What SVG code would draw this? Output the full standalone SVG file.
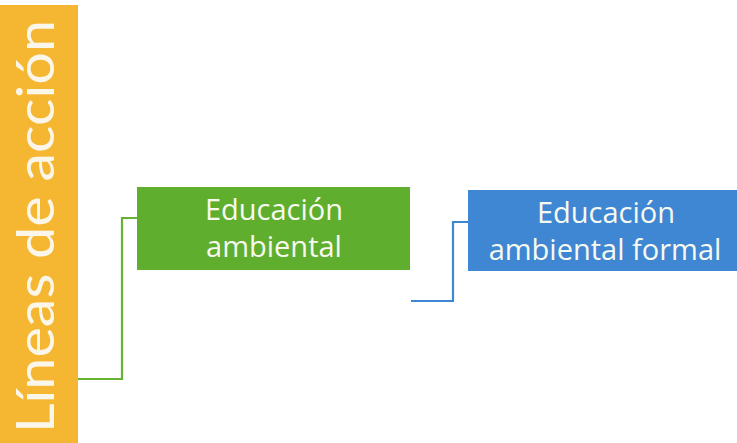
<svg xmlns="http://www.w3.org/2000/svg" width="737" height="443" viewBox="0 0 737 443">
<style>
.lbl{font-family:"Open Sans","Noto Sans","Liberation Sans",sans-serif;fill:#F7F9EF;text-anchor:middle}
.conn{fill:none;stroke-width:2.2;stroke-linejoin:miter}
</style>
<rect x="0" y="0" width="737" height="443" fill="#FFFFFF"/>
<g id="lineas">
<rect x="0" y="5" width="78" height="438" fill="#F5B731"/>
<text transform="translate(54,433) rotate(-90)" font-family="Lato,'Open Sans','Liberation Sans',sans-serif" font-size="53" fill="#FBF6EA" textLength="413" lengthAdjust="spacingAndGlyphs">Líneas de acción</text>
</g>
<g id="connectors">
<polyline class="conn" stroke="#67B234" points="78,379 122,379 122,218 137,218"/>
<polyline class="conn" stroke="#3F87D3" points="411,301 453,301 453,222 468,222"/>
</g>
<g id="educacion-ambiental">
<rect x="137" y="187" width="273" height="83" fill="#5FAE2E"/>
<text class="lbl" font-size="29" x="274" y="220">Educación</text>
<text class="lbl" font-size="29" x="274" y="257">ambiental</text>
</g>
<g id="educacion-ambiental-formal">
<rect x="468" y="190" width="269" height="81" fill="#3F87D3"/>
<text class="lbl" font-size="29" x="606" y="223">Educación</text>
<text class="lbl" font-size="29" x="605" y="260">ambiental formal</text>
</g>
</svg>
